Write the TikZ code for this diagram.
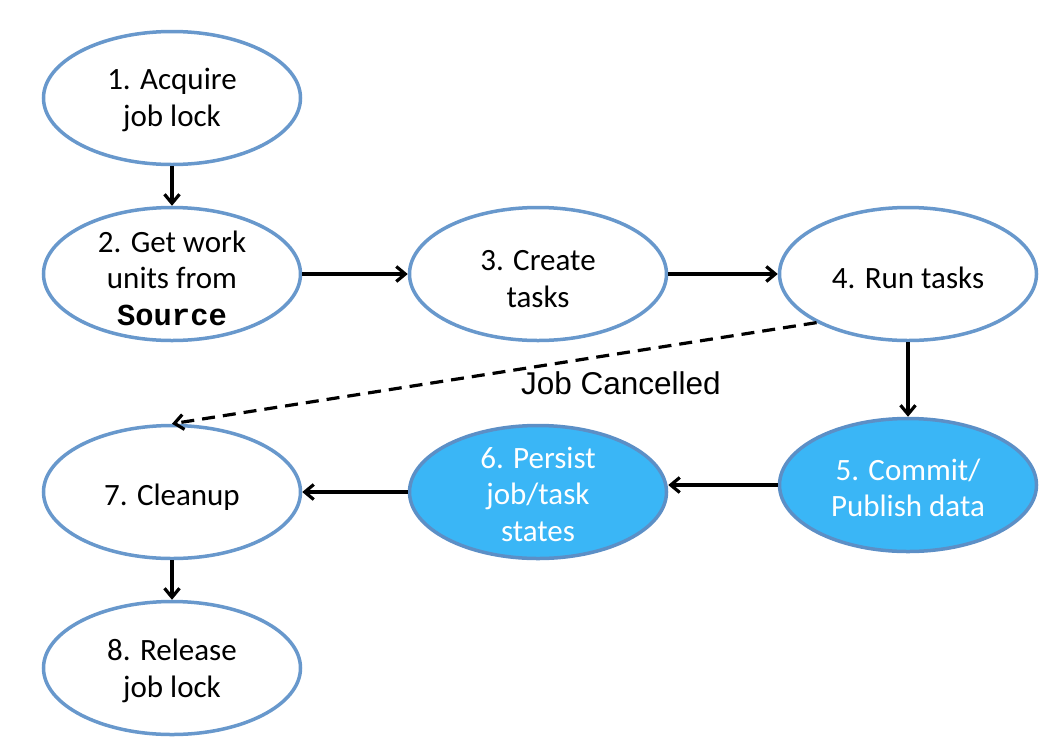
\documentclass[tikz,border=0pt]{standalone}
\usepackage{fontspec}
\setmainfont{Carlito}
\newfontfamily\lblfont{Liberation Sans}
\newfontfamily\srcfont{Liberation Mono}
\usetikzlibrary{shapes.geometric,arrows.meta}
\definecolor{edgeblue}{RGB}{104,152,204}
\definecolor{fillblue}{RGB}{58,182,246}
\definecolor{fillborder}{RGB}{92,143,198}
\tikzset{
  stage/.style={ellipse,draw=edgeblue,line width=3.5pt,fill=white,
    minimum width=257pt,minimum height=133pt,inner sep=0pt},
  hot/.style={stage,fill=fillblue,draw=fillborder},
  txt/.style={align=center,font=\fontsize{31}{36.5}\selectfont,inner sep=0pt},
  wtxt/.style={txt,text=white},
  flow/.style={line width=3.2pt,-{Straight Barb[length=9pt,width=15pt,line width=3.2pt]}},
}
\begin{document}
\begin{tikzpicture}[x=1pt,y=-1pt]
\useasboundingbox (0,0) rectangle (1056,750);
\node[stage] (n1) at (172,98) {};
\node[stage] (n2) at (172,274) {};
\node[stage] (n3) at (538,274) {};
\node[stage] (n4) at (908,274) {};
\node[hot]   (n5) at (908,485) {};
\node[hot]   (n6) at (538,492) {};
\node[stage] (n7) at (172,492) {};
\node[stage] (n8) at (172,668) {};

\node[txt] (t1) at (172,100) {1. Acquire\\job lock};
\node[txt] (t2) at (172,278) {2. Get work\\units from\\{\srcfont\bfseries\fontsize{30.5}{36.5}\selectfont Source}};
\node[txt] (t3) at (538,279) {3. Create\\tasks};
\node[txt] (t4) at (908,278) {4. Run tasks};
\node[wtxt] (t5) at (908,488) {5. Commit/\\Publish data};
\node[wtxt] (t6) at (538,494) {6. Persist\\job/task\\states};
\node[txt] (t7) at (172,497) {7. Cleanup};
\node[txt] (t8) at (172,671) {8. Release\\job lock};

\draw[flow] (n1.south) -- (n2.north);
\draw[flow] (n2.east) -- (n3.west);
\draw[flow] (n3.east) -- (n4.west);
\draw[flow] (n4.south) -- (n5.north);
\draw[flow] (n5.west) -- (n5.west -| n6.east);
\draw[flow] (n6.west) -- (n7.east);
\draw[flow] (n7.south) -- (n8.north);
\draw[flow,dash pattern=on 13pt off 8pt] (n4.208) -- (n7.north);
\node[font=\lblfont\fontsize{31.5}{36}\selectfont,inner sep=0pt] (lbl) at (621,383) {Job Cancelled};
\end{tikzpicture}
\end{document}
